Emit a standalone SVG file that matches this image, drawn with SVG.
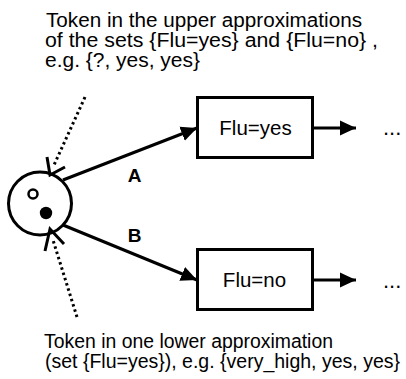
<svg xmlns="http://www.w3.org/2000/svg" width="406" height="379" viewBox="0 0 406 379">
  <style>
    text { font-family: "Liberation Sans", Arial, sans-serif; fill: #000; }
    .note { font-size: 20px; }
    .note-long { font-size: 19.5px; }
    .dots { font-size: 22px; }
    .label { font-size: 20.5px; text-anchor: middle; }
    .edge-label { font-size: 19px; font-weight: bold; text-anchor: middle; }
    .box { fill: #fff; stroke: #000; stroke-width: 3; }
    .edge { fill: none; stroke: #000; stroke-width: 3; }
    .dotted { fill: none; stroke: #000; stroke-width: 3; stroke-dasharray: 2.5 3; }
    .open-head { fill: none; stroke: #000; stroke-width: 3; }
  </style>
  <defs>
    <marker id="solidHead" markerUnits="userSpaceOnUse" viewBox="0 0 16 16" markerWidth="16" markerHeight="16" refX="16" refY="8" orient="auto">
      <path d="M0,0.5 L16,8 L0,15.5 Z" fill="#000"/>
    </marker>
  </defs>

  <!-- annotation texts -->
  <g id="note-upper">
    <text class="note" x="46" y="27" textLength="316" lengthAdjust="spacingAndGlyphs">Token in the upper approximations</text>
    <text class="note" x="45" y="47" textLength="333" lengthAdjust="spacingAndGlyphs">of the sets {Flu=yes} and {Flu=no} ,</text>
    <text class="note" x="45" y="67" textLength="155" lengthAdjust="spacingAndGlyphs">e.g. {?, yes, yes}</text>
  </g>
  <g id="note-lower">
    <text class="note" x="44" y="348" textLength="289" lengthAdjust="spacingAndGlyphs">Token in one lower approximation</text>
    <text class="note-long" x="45" y="368" textLength="355" lengthAdjust="spacingAndGlyphs">(set {Flu=yes}), e.g. {very_high, yes, yes}</text>
  </g>

  <!-- place holding the tokens -->
  <g id="place">
    <circle cx="40" cy="203.5" r="31.5" fill="#fff" stroke="#000" stroke-width="3"/>
    <circle cx="33" cy="194" r="4.5" fill="#fff" stroke="#000" stroke-width="2.5"/>
    <circle cx="46" cy="213" r="6.2" fill="#000"/>
  </g>

  <g id="node-flu-yes">
    <rect class="box" x="197.5" y="97.5" width="115" height="60"/>
    <text class="label" x="255.5" y="135">Flu=yes</text>
  </g>
  <g id="node-flu-no">
    <rect class="box" x="197.5" y="249.5" width="115" height="60"/>
    <text class="label" x="254.5" y="287">Flu=no</text>
  </g>

  <g id="continue-yes">
    <text class="dots" x="383" y="135">...</text>
  </g>
  <g id="continue-no">
    <text class="dots" x="383" y="288">...</text>
  </g>

  <g id="connectors">
    <!-- arcs A and B -->
    <line class="edge" x1="63" y1="180" x2="197" y2="128" marker-end="url(#solidHead)"/>
    <line class="edge" x1="63" y1="225" x2="197" y2="280" marker-end="url(#solidHead)"/>
    <text class="edge-label" x="134.5" y="182">A</text>
    <text class="edge-label" x="134.5" y="242">B</text>

    <!-- outputs of the two boxes -->
    <line class="edge" x1="313" y1="128" x2="356" y2="128" marker-end="url(#solidHead)"/>
    <line class="edge" x1="313" y1="280" x2="356" y2="280" marker-end="url(#solidHead)"/>

    <!-- dotted pointers to the tokens -->
    <line class="dotted" x1="85" y1="97" x2="54" y2="165"/>
    <path class="open-head" d="M47,157 L50,175 L65,167"/>
    <line class="dotted" x1="77" y1="317" x2="53" y2="240"/>
    <path class="open-head" d="M45,251 L50,229 L64,244"/>
  </g>
</svg>
